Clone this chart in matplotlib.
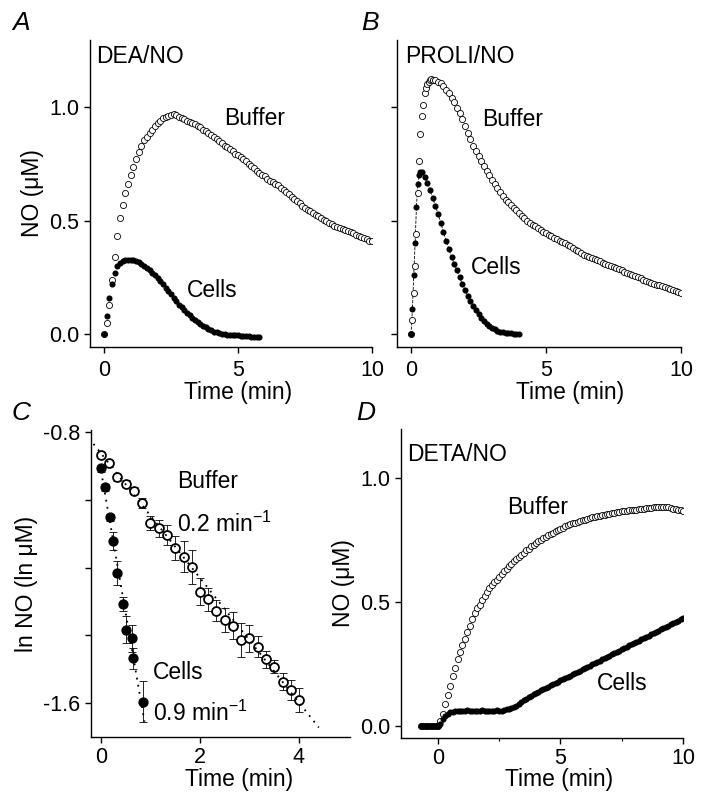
import numpy as np
import matplotlib
matplotlib.use("Agg")
import matplotlib.pyplot as plt

plt.rcParams['font.family'] = ['Liberation Sans', 'DejaVu Sans']
plt.rcParams['mathtext.fontset'] = 'custom'
plt.rcParams['mathtext.rm'] = 'Liberation Sans'
plt.rcParams['axes.unicode_minus'] = False

# --- A: DEA/NO, sampled every 6 s ---
a_t = np.arange(101) * 0.1
a_buffer = [0.0, 0.05, 0.13, 0.24, 0.34, 0.43, 0.51, 0.57, 0.62, 0.66,
            0.70, 0.735, 0.77, 0.80, 0.83, 0.855, 0.87, 0.885, 0.90, 0.915,
            0.93, 0.94, 0.95, 0.955, 0.96, 0.965, 0.968, 0.966, 0.958, 0.952,
            0.945, 0.94, 0.935, 0.93, 0.925, 0.915, 0.91, 0.90, 0.895, 0.885,
            0.875, 0.868, 0.86, 0.85, 0.84, 0.83, 0.825, 0.815, 0.805, 0.795,
            0.787, 0.78, 0.77, 0.76, 0.75, 0.74, 0.73, 0.72, 0.71, 0.70,
            0.695, 0.685, 0.675, 0.67, 0.66, 0.655, 0.645, 0.635, 0.625, 0.615,
            0.605, 0.595, 0.585, 0.575, 0.565, 0.555, 0.548, 0.54, 0.532, 0.525,
            0.518, 0.51, 0.503, 0.497, 0.49, 0.484, 0.478, 0.472, 0.467, 0.462,
            0.458, 0.453, 0.448, 0.443, 0.437, 0.432, 0.427, 0.422, 0.417, 0.412, 0.408]
a_cells_t = np.arange(59) * 0.1
a_cells = [0.0, 0.08, 0.16, 0.22, 0.27, 0.30, 0.315, 0.322, 0.326, 0.327,
           0.327, 0.325, 0.321, 0.316, 0.308, 0.30, 0.29, 0.28, 0.27, 0.258,
           0.246, 0.233, 0.22, 0.205, 0.19, 0.175, 0.16, 0.145, 0.13, 0.117,
           0.105, 0.093, 0.082, 0.072, 0.062, 0.053, 0.044, 0.036, 0.029, 0.022,
           0.016, 0.011, 0.007, 0.004, 0.002, 0.0, -0.002, -0.003, -0.004, -0.005,
           -0.006, -0.007, -0.008, -0.009, -0.01, -0.011, -0.012, -0.012, -0.012]

# --- B: PROLI/NO, 3 s sampling during the rise, 6 s afterwards ---
b_t = np.concatenate([np.arange(16) * 0.05, 0.8 + np.arange(93) * 0.1])
b_buffer = [0.0, 0.06, 0.18, 0.30, 0.44, 0.62, 0.76, 0.88, 0.96, 1.01,
            1.06, 1.085, 1.10, 1.112, 1.12, 1.123,
            1.12, 1.118, 1.112, 1.104, 1.092, 1.077, 1.06, 1.04, 1.02, 0.997,
            0.972, 0.945, 0.915, 0.885, 0.857, 0.83, 0.805, 0.782, 0.76, 0.74,
            0.72, 0.70, 0.68, 0.663, 0.645, 0.625, 0.607, 0.592, 0.58, 0.567,
            0.556, 0.545, 0.533, 0.522, 0.511, 0.50, 0.49, 0.481, 0.474, 0.466,
            0.458, 0.451, 0.444, 0.437, 0.431, 0.425, 0.418, 0.412, 0.406, 0.40,
            0.394, 0.388, 0.38, 0.372, 0.364, 0.357, 0.35, 0.345, 0.34, 0.335,
            0.33, 0.325, 0.32, 0.315, 0.31, 0.305, 0.30, 0.295, 0.29, 0.285,
            0.28, 0.275, 0.27, 0.265, 0.26, 0.255, 0.25, 0.245, 0.24, 0.235,
            0.23, 0.226, 0.222, 0.218, 0.214, 0.21, 0.206, 0.202, 0.198, 0.194,
            0.19, 0.186, 0.182]
b_cells_t = np.concatenate([np.arange(9) * 0.05, 0.5 + np.arange(36) * 0.1])
b_cells = [0.0, 0.11, 0.26, 0.40, 0.56, 0.66, 0.70, 0.715, 0.712,
           0.69, 0.665, 0.635, 0.60, 0.565, 0.53, 0.49, 0.45, 0.41, 0.375,
           0.34, 0.31, 0.28, 0.25, 0.22, 0.195, 0.168, 0.145, 0.125, 0.105,
           0.088, 0.072, 0.058, 0.046, 0.036, 0.028, 0.021, 0.015, 0.011, 0.008,
           0.006, 0.004, 0.003, 0.002, 0.001, 0.0]

# --- C: log decay, mean +/- s.e.m. ---
c_buf_t = [0, 0.17, 0.33, 0.5, 0.67, 0.83, 1.0, 1.17, 1.33, 1.5, 1.67, 1.83, 2.0,
           2.17, 2.33, 2.5, 2.67, 2.83, 3.0, 3.17, 3.33, 3.5, 3.67, 3.83, 4.0]
c_buf = [-0.868, -0.892, -0.934, -0.953, -0.973, -1.01, -1.068, -1.084, -1.104,
         -1.143, -1.168, -1.197, -1.271, -1.294, -1.327, -1.355, -1.372, -1.414,
         -1.409, -1.433, -1.47, -1.492, -1.537, -1.561, -1.591]
c_buf_err = [0.01, 0.01, 0.01, 0.01, 0.01, 0.015, 0.02, 0.025, 0.03, 0.035, 0.045,
             0.05, 0.04, 0.035, 0.03, 0.035, 0.04, 0.05, 0.04, 0.03, 0.025, 0.02,
             0.025, 0.03, 0.035]
c_cells_t = [0.0, 0.08, 0.18, 0.25, 0.32, 0.44, 0.51, 0.62, 0.65, 0.84]
c_cells = [-0.907, -0.963, -1.052, -1.121, -1.217, -1.307, -1.384, -1.409, -1.468, -1.596]
c_cells_err = [0.01, 0.01, 0.01, 0.027, 0.035, 0.02, 0.04, 0.04, 0.03, 0.06]
c_buf_fit_t = [-0.15, 4.4]
c_buf_fit = [-0.835, -1.672]
c_cells_fit_t = [-0.02, 0.88]
c_cells_fit = [-0.895, -1.655]

# --- D: DETA/NO, sampled every 6 s ---
d_t = -0.7 + np.arange(108) * 0.1
d_buffer = [0.0] * 8 + [
    0.02, 0.05, 0.09, 0.125, 0.16, 0.20, 0.235, 0.27, 0.30, 0.325,
    0.35, 0.38, 0.405, 0.43, 0.455, 0.475, 0.49, 0.51, 0.525, 0.54,
    0.555, 0.57, 0.58, 0.59, 0.60, 0.615, 0.625, 0.635, 0.645, 0.655,
    0.665, 0.675, 0.683, 0.69, 0.70, 0.71, 0.715, 0.725, 0.73, 0.738,
    0.745, 0.75, 0.757, 0.763, 0.77, 0.775, 0.78, 0.785, 0.79, 0.795,
    0.80, 0.805, 0.81, 0.813, 0.817, 0.82, 0.824, 0.827, 0.83, 0.833,
    0.836, 0.839, 0.842, 0.844, 0.847, 0.849, 0.851, 0.853, 0.855, 0.857,
    0.859, 0.861, 0.863, 0.864, 0.866, 0.867, 0.868, 0.87, 0.871, 0.872,
    0.873, 0.874, 0.876, 0.877, 0.878, 0.879, 0.88, 0.882, 0.883, 0.884,
    0.885, 0.885, 0.884, 0.882, 0.88, 0.877, 0.875, 0.872, 0.87, 0.868]
d_cells = [0.0] * 8 + [
    0.01, 0.03, 0.042, 0.05, 0.055, 0.058, 0.06,
    0.062, 0.062, 0.061, 0.062, 0.063, 0.062, 0.062, 0.061, 0.062, 0.062,
    0.063, 0.062, 0.062, 0.061, 0.062, 0.062, 0.063, 0.062, 0.062,
    0.064, 0.067, 0.07, 0.074, 0.078, 0.083, 0.09, 0.097, 0.105, 0.11,
    0.116, 0.122, 0.128, 0.134,
    0.139, 0.144, 0.149, 0.154, 0.159, 0.164, 0.169, 0.174, 0.179, 0.184,
    0.189, 0.194, 0.199, 0.204, 0.209, 0.214, 0.219, 0.224, 0.229, 0.234,
    0.239, 0.244, 0.249, 0.254, 0.259, 0.264, 0.269, 0.274, 0.279, 0.284,
    0.289, 0.294, 0.299, 0.304, 0.31, 0.315, 0.32, 0.325, 0.33, 0.335,
    0.34, 0.345, 0.35, 0.355, 0.36, 0.365, 0.37, 0.375, 0.38, 0.385,
    0.39, 0.395, 0.40, 0.405, 0.41, 0.415, 0.42, 0.425, 0.43, 0.435]

TICK_FS = 15.5
TEXT_FS = 16.5

W, H = 706, 793
fig = plt.figure(figsize=(W / 100, H / 100), dpi=100)


def add_axes(left, top, right, bottom, xpad):
    ax = fig.add_axes([left / W, 1 - bottom / H, (right - left) / W, (bottom - top) / H])
    for side in ('top', 'right'):
        ax.spines[side].set_visible(False)
    for side in ('left', 'bottom'):
        ax.spines[side].set_linewidth(1.0)
    ax.tick_params(direction='out', length=4.5, width=1.0, labelsize=TICK_FS)
    ax.tick_params(axis='y', pad=3)
    ax.tick_params(axis='x', pad=xpad)
    return ax


def open_trace(ax, t, v):
    ax.plot(t, v, 'o', ms=4.4, mfc='white', mec='black', mew=0.6, zorder=3)


def filled_trace(ax, t, v):
    ax.plot(t, v, 'o', ms=4.4, color='black', mew=0, zorder=4)


# A
axA = add_axes(90, 40, 372, 347, 4.5)
open_trace(axA, a_t, a_buffer)
filled_trace(axA, a_cells_t, a_cells)
axA.set_xlim(-0.52, 10)
axA.set_ylim(-0.057, 1.295)
axA.set_xticks([0, 5, 10])
axA.set_yticks([0, 0.5, 1.0])
axA.set_yticklabels(['0.0', '0.5', '1.0'])
axA.set_ylabel('NO (\u03bcM)', fontsize=TEXT_FS, labelpad=4)
axA.set_xlabel('Time (min)', fontsize=TEXT_FS)
axA.xaxis.set_label_coords(0.525, -0.112)
axA.text(0.02, 0.985, 'DEA/NO', transform=axA.transAxes, fontsize=TEXT_FS, va='top')
axA.text(5.63, 0.95, 'Buffer', fontsize=TEXT_FS, ha='center', va='center')
axA.text(4.03, 0.194, 'Cells', fontsize=TEXT_FS, ha='center', va='center')

# B
axB = add_axes(397, 40, 681, 347, 4.5)
axB.plot(b_cells_t, b_cells, '--', color='black', lw=0.6, zorder=2)
open_trace(axB, b_t, b_buffer)
filled_trace(axB, b_cells_t, b_cells)
axB.set_xlim(-0.52, 10)
axB.set_ylim(-0.057, 1.295)
axB.set_xticks([0, 5, 10])
axB.set_yticks([0, 0.5, 1.0])
axB.set_yticklabels([])
axB.set_xlabel('Time (min)', fontsize=TEXT_FS)
axB.xaxis.set_label_coords(0.61, -0.112)
axB.text(0.028, 0.985, 'PROLI/NO', transform=axB.transAxes, fontsize=TEXT_FS, va='top')
axB.text(3.78, 0.947, 'Buffer', fontsize=TEXT_FS, ha='center', va='center')
axB.text(3.15, 0.295, 'Cells', fontsize=TEXT_FS, ha='center', va='center')

# C
axC = add_axes(91, 430, 350, 737, 3)
axC.errorbar(c_buf_t, c_buf, yerr=c_buf_err, fmt='none', ecolor='black',
             elinewidth=0.6, capsize=3, capthick=0.6, zorder=2)
axC.errorbar(c_cells_t, c_cells, yerr=c_cells_err, fmt='none', ecolor='black',
             elinewidth=0.6, capsize=3, capthick=0.6, zorder=2)
axC.plot(c_buf_t, c_buf, 'o', ms=6.4, mfc='white', mec='black', mew=1.3, zorder=3)
axC.plot(c_cells_t, c_cells, 'o', ms=6.4, color='black', zorder=3)
axC.plot(c_buf_fit_t, c_buf_fit, color='black', lw=1.3, ls=(0, (1, 3)), zorder=5)
axC.plot(c_cells_fit_t, c_cells_fit, color='black', lw=1.3, ls=(0, (1, 3)), zorder=5)
axC.set_xlim(-0.2, 5.03)
axC.set_ylim(-1.70, -0.794)
axC.set_xticks([0, 2, 4])
axC.set_yticks([-0.8, -1.0, -1.2, -1.4, -1.6])
axC.set_yticklabels(['-0.8', '', '', '', '-1.6'])
axC.set_ylabel('ln NO (ln \u03bcM)', fontsize=TEXT_FS, labelpad=4)
axC.set_xlabel('Time (min)', fontsize=TEXT_FS)
axC.xaxis.set_label_coords(0.571, -0.101)
axC.text(1.53, -0.947, 'Buffer', fontsize=TEXT_FS, ha='left', va='center')
axC.text(1.53, -1.071, '0.2 min$^{-1}$', fontsize=TEXT_FS, ha='left', va='center')
axC.text(1.05, -1.511, 'Cells', fontsize=TEXT_FS, ha='left', va='center')
axC.text(1.05, -1.629, '0.9 min$^{-1}$', fontsize=TEXT_FS, ha='left', va='center')

# D
axD = add_axes(401, 429, 683, 738, 3)
open_trace(axD, d_t, d_buffer)
filled_trace(axD, d_t, d_cells)
axD.set_xlim(-1.51, 10)
axD.set_ylim(-0.048, 1.198)
axD.set_xticks([0, 5, 10])
axD.set_xticks([2.5, 7.5], minor=True)
axD.tick_params(axis='x', which='minor', direction='out', length=2.5, width=0.8)
axD.set_yticks([0, 0.5, 1.0])
axD.set_yticklabels(['0.0', '0.5', '1.0'])
axD.set_ylabel('NO (\u03bcM)', fontsize=TEXT_FS, labelpad=4)
axD.set_xlabel('Time (min)', fontsize=TEXT_FS)
axD.xaxis.set_label_coords(0.56, -0.097)
axD.text(0.02, 0.955, 'DETA/NO', transform=axD.transAxes, fontsize=TEXT_FS, va='top')
axD.text(4.08, 0.883, 'Buffer', fontsize=TEXT_FS, ha='center', va='center')
axD.text(7.51, 0.173, 'Cells', fontsize=TEXT_FS, ha='center', va='center')

# panel letters
for letter, x, y in [('A', 12, 11), ('B', 361, 11), ('C', 12, 401), ('D', 356, 401)]:
    fig.text(x / W, 1 - y / H, letter, fontsize=19, style='italic', va='top', ha='left')

fig.savefig('out.png', dpi=100)
